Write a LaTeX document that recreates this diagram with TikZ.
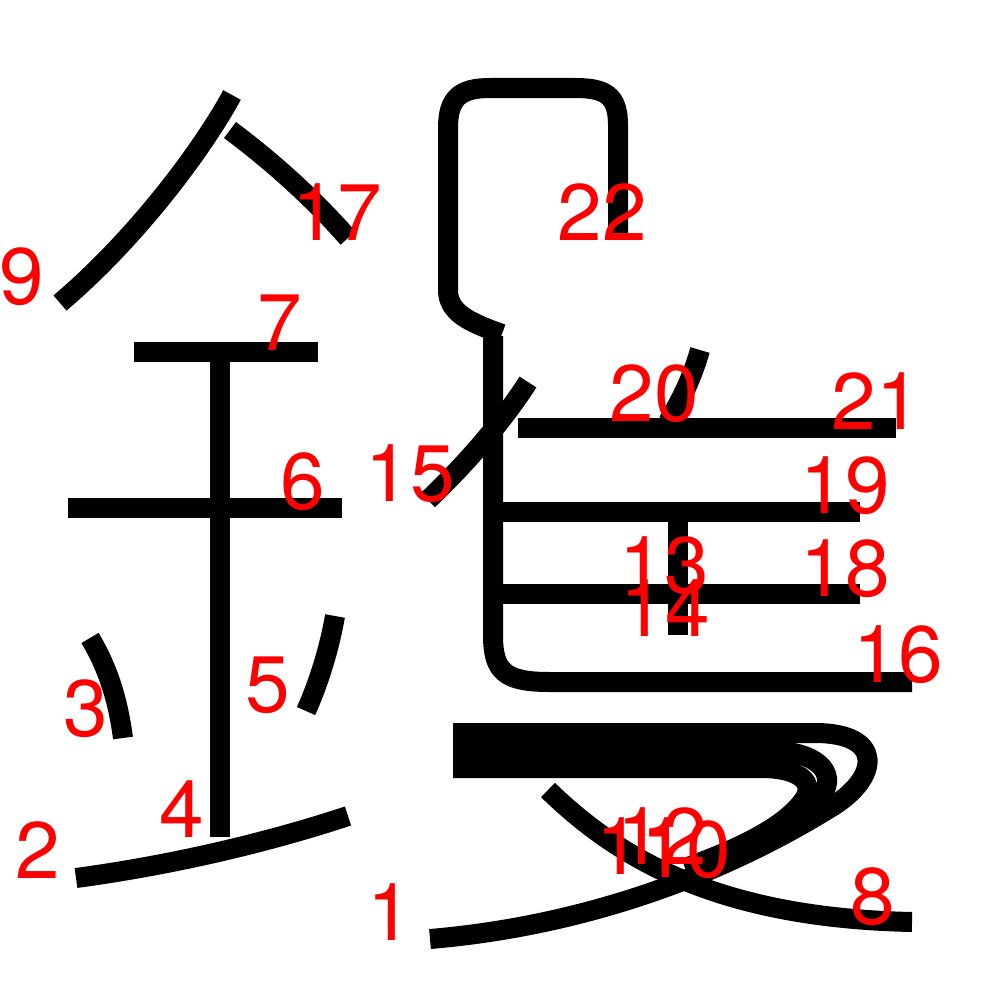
\documentclass[tikz,border=0pt]{standalone}
\usepackage{fontspec}
\setmainfont{TeX Gyre Heros}
\usepackage{tikz}

\begin{document}
\begin{tikzpicture}[x=0.01cm,y=-0.01cm]
 \tikzstyle{stroke} = [line width=0.2cm,black]
 \tikzstyle{num} = [red,inner sep=0pt,font=\fontsize{22.8}{24}\selectfont]
 \useasboundingbox (0,0) rectangle (1000,1000);

% Left part
 \draw[stroke] (232,95) .. controls (205,145) and (140,235) .. (60,303);
 \draw[stroke] (230,130) .. controls (270,160) and (310,195) .. (348,238);
 \draw[stroke] (134,352) -- (318,352);
 \draw[stroke] (68,508) -- (342,508);
 \draw[stroke] (220,352) -- (220,837);
 \draw[stroke] (90,638) .. controls (108,668) and (118,700) .. (123,738);
 \draw[stroke] (335,616) .. controls (330,645) and (320,680) .. (306,711);
 \draw[stroke] (76,878) .. controls (165,866) and (260,845) .. (348,816);

% Right part, top
 \draw[stroke] (618,233) -- (618,125) .. controls (618,95) and (605,88) .. (575,88)
   -- (490,88) .. controls (460,88) and (448,98) .. (448,128) -- (448,290)
   .. controls (448,312) and (468,322) .. (502,334);
 \draw[stroke] (528,382) .. controls (505,418) and (470,460) .. (428,500);
 \draw[stroke] (493,336) -- (493,635) .. controls (493,672) and (505,682) .. (550,682) -- (912,682);
 \draw[stroke] (700,350) .. controls (692,378) and (682,398) .. (668,422);
 \draw[stroke] (518,428) -- (896,428);
 \draw[stroke] (493,512) -- (860,512);
 \draw[stroke] (493,594) -- (860,594);
 \draw[stroke] (678,512) -- (678,594);
 \draw[stroke] (678,594) -- (678,635);

% Right part, bottom
 \draw[stroke] (453,768) -- (762,768) .. controls (795,768) and (815,780) .. (805,798)
   .. controls (785,828) and (735,850) .. (685,868);
 \draw[stroke] (453,751) -- (772,751) .. controls (815,751) and (838,772) .. (822,795)
   .. controls (795,825) and (740,852) .. (690,872);
 \draw[stroke] (453,733) -- (815,733) .. controls (885,733) and (880,778) .. (830,808)
   .. controls (700,888) and (560,928) .. (430,939);
 \draw[stroke] (548,790) .. controls (620,860) and (720,918) .. (912,922);

% Numbers
 \node[num] (n1) at (390,912) {1};
 \node[num] (n2) at (38,850) {2};
 \node[num] (n3) at (86,709) {3};
 \node[num] (n4) at (182,809) {4};
 \node[num] (n5) at (268,685) {5};
 \node[num] (n6) at (303,482) {6};
 \node[num] (n7) at (280,323) {7};
 \node[num] (n8) at (873,897) {8};
 \node[num] (n9) at (22,277) {9};
 \node[num] (n10) at (686,850) {10};
 \node[num] (n11) at (641,846) {11};
 \node[num] (n12) at (662,836) {12};
 \node[num] (n13) at (664,566) {13};
 \node[num] (n14) at (665,608) {14};
 \node[num] (n15) at (410,474) {15};
 \node[num] (n16) at (898,655) {16};
 \node[num] (n17) at (337,212) {17};
 \node[num] (n18) at (845,569) {18};
 \node[num] (n19) at (845,486) {19};
 \node[num] (n20) at (654,394) {20};
 \node[num] (n21) at (876,401) {21};
 \node[num] (n22) at (602,212) {22};
\end{tikzpicture}
\end{document}
